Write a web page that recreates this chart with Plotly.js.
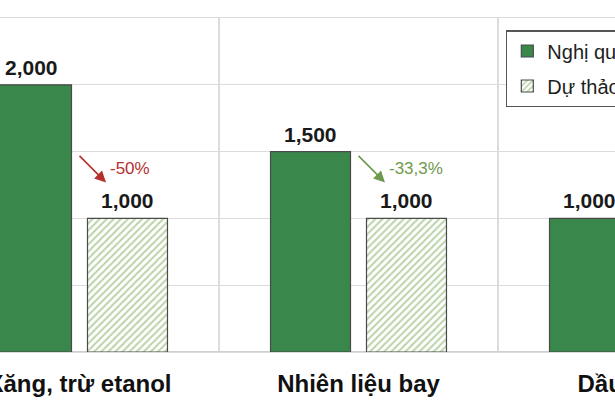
<!DOCTYPE html>
<html>
<head>
<meta charset="utf-8">
<script src="https://cdn.plot.ly/plotly-3.0.1.min.js"></script>
<style>
html,body{margin:0;padding:0;background:#fff;overflow:hidden;width:615px;height:410px;}
#wrap{position:relative;width:615px;height:410px;overflow:hidden;}
#chart{position:absolute;left:-100px;top:0;width:897px;height:410px;}
</style>
</head>
<body>
<div id="wrap"><div id="chart"></div></div>
<script>
const categories = ["Xăng, trừ etanol", "Nhiên liệu bay", "Dầu diesel"];
const seriesNames = ["Nghị quyết 60/2024/UBTVQH15", "Dự thảo nghị quyết mới"];
const nghiQuyet = [2000, 1500, 1000];
const duThao = [1000, 1000, null];

const FONT = "'Liberation Sans', Arial, sans-serif";
const GREEN = "#3a874c";
const BORDER = "#4a4a4a";

const traces = [
  {
    type: "bar", name: seriesNames[0], x: categories, y: nghiQuyet,
    legendgroup: "a",
    marker: { color: GREEN, line: { color: BORDER, width: 1.2 } },
    hoverinfo: "skip"
  },
  {
    type: "bar", name: seriesNames[1], x: categories, y: duThao,
    legendgroup: "b",
    marker: {
      color: "#ffffff",
      line: { color: BORDER, width: 1.2 },
      pattern: { shape: "/", fgcolor: "#b9d3a6", bgcolor: "#ffffff", size: 5, solidity: 0.4 }
    },
    hoverinfo: "skip"
  }
];

const fmt = v => v.toLocaleString("en-US");
const annotations = [];
categories.forEach((c, i) => {
  [[nghiQuyet[i], -48], [duThao[i], 48]].forEach(([v, dx]) => {
    if (v == null) return;
    annotations.push({
      x: c, y: v, xref: "x", yref: "y", text: fmt(v), showarrow: false,
      xshift: dx, yanchor: "bottom", yshift: 4,
      font: { family: FONT, size: 21, color: "#1a1a1a", weight: 700 }
    });
  });
  if (duThao[i] != null && nghiQuyet[i] != null) {
    const pct = (duThao[i] - nghiQuyet[i]) / nghiQuyet[i] * 100;
    const txt = (Math.round(pct * 10) / 10).toString().replace(".", ",") + "%";
    const col = i === 0 ? "#b5302c" : "#6f9a4e";
    annotations.push({
      x: i + 0.095, y: duThao[i], xref: "x", yref: "y", text: "",
      showarrow: true, ax: -28, ay: -28, yshift: 36,
      arrowhead: 2, arrowsize: 1.4, arrowwidth: 1.6, arrowcolor: col
    });
    annotations.push({
      x: i + 0.095, y: duThao[i], xref: "x", yref: "y", text: txt, showarrow: false,
      xshift: 2, xanchor: "left", yshift: 50,
      font: { family: FONT, size: 17, color: col }
    });
  }
});

const layout = {
  width: 897, height: 410,
  margin: { l: 40, r: 20, t: 18, b: 58, autoexpand: false },
  paper_bgcolor: "#ffffff", plot_bgcolor: "#ffffff",
  barmode: "group", bargap: 0.312, bargroupgap: 0.1667,
  showlegend: true,
  legend: {
    x: 0.676, y: 0.964, xanchor: "left", yanchor: "top",
    bgcolor: "#ffffff", bordercolor: "#555555", borderwidth: 1.5,
    font: { family: FONT, size: 20, color: "#1e1e1e" },
    traceorder: "grouped", tracegroupgap: 6, itemwidth: 30
  },
  xaxis: {
    type: "category", range: [-0.5, 2.5],
    tickson: "boundaries", showgrid: true, gridcolor: "#dcdcdc", gridwidth: 1.2,
    ticks: "", showline: true, mirror: true, linecolor: "#dcdcdc", linewidth: 1.2,
    zeroline: false,
    tickfont: { family: FONT, size: 24, color: "#111111", weight: 700 },
    ticklabelstandoff: 10
  },
  yaxis: {
    range: [0, 2500], dtick: 500, showticklabels: false,
    showgrid: true, gridcolor: "#dcdcdc", gridwidth: 1.2,
    zeroline: true, zerolinecolor: "#cfcfcf", zerolinewidth: 2, showline: false
  },
  annotations: annotations
};

Plotly.newPlot("chart", traces, layout, { displayModeBar: false, staticPlot: true });
</script>
</body>
</html>
